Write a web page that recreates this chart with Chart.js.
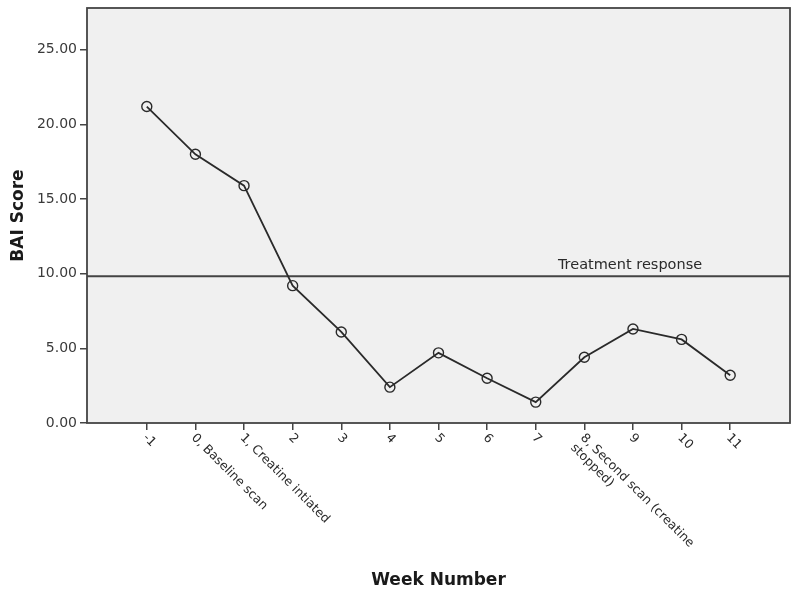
<!DOCTYPE html>
<html>
<head>
<meta charset="utf-8">
<script src="https://cdn.jsdelivr.net/npm/chart.js@4"></script>
<style>
  html, body { margin: 0; padding: 0; background: #fff; }
  #wrap { width: 800px; height: 595px; position: relative; }
</style>
</head>
<body>
<div id="wrap"><canvas id="grafica"></canvas></div>
<script>
// datos
const semanas = [-1, 0, 1, 2, 3, 4, 5, 6, 7, 8, 9, 10, 11];
const etiquetasSemana = [
    ['-1'],
    ['0, Baseline scan'],
    ['1, Creatine intiated'],
    ['2'], ['3'], ['4'], ['5'], ['6'], ['7'],
    ['8, Second scan (creatine', 'stopped)'],
    ['9'], ['10'], ['11']
];
const puntajeBAI = [21.2, 18.0, 15.9, 9.2, 6.1, 2.4, 4.7, 3.0, 1.4, 4.4, 6.3, 5.6, 3.2];
const umbralRespuesta = 9.83;
const textoUmbral = 'Treatment response';
const ticksY = [0, 5, 10, 15, 20, 25];

const FUENTE = '"DejaVu Sans", sans-serif';
const GRIS = '#2a2a2a';

// fondo, borde, línea de umbral y etiquetas inclinadas
const pluginSPSS = {
    id: 'spss',
    beforeDatasetsDraw(chart) {
        const { ctx, chartArea: a, scales } = chart;
        ctx.save();
        ctx.fillStyle = '#f0f0f0';
        ctx.fillRect(a.left, a.top, a.right - a.left, a.bottom - a.top);
        const yU = scales.y.getPixelForValue(umbralRespuesta);
        ctx.strokeStyle = '#444';
        ctx.lineWidth = 1.8;
        ctx.beginPath();
        ctx.moveTo(a.left, yU);
        ctx.lineTo(a.right, yU);
        ctx.stroke();
        ctx.fillStyle = GRIS;
        ctx.font = '14.5px ' + FUENTE;
        ctx.textAlign = 'center';
        ctx.textBaseline = 'bottom';
        ctx.fillText(textoUmbral, 630, yU - 4);
        ctx.restore();
    },
    afterDraw(chart) {
        const { ctx, chartArea: a, scales } = chart;
        ctx.save();
        ctx.strokeStyle = '#444';
        ctx.lineWidth = 1.8;
        ctx.strokeRect(a.left, a.top, a.right - a.left, a.bottom - a.top);

        ctx.fillStyle = GRIS;
        ctx.font = '12.5px ' + FUENTE;
        ctx.textAlign = 'left';
        ctx.textBaseline = 'middle';
        semanas.forEach((s, i) => {
            const x = scales.x.getPixelForValue(s);
            ctx.save();
            ctx.translate(x - 2, a.bottom + 13);
            ctx.rotate(Math.PI / 4);
            etiquetasSemana[i].forEach((linea, j) => {
                ctx.fillText(linea, 0, j * 14);
            });
            ctx.restore();
        });
        ctx.restore();
    }
};

const ctx = document.getElementById('grafica').getContext('2d');
new Chart(ctx, {
    type: 'line',
    data: {
        datasets: [{
            label: 'BAI Score',
            data: semanas.map((s, i) => ({ x: s, y: puntajeBAI[i] })),
            borderColor: GRIS,
            borderWidth: 1.8,
            pointRadius: 5,
            pointBorderWidth: 1.4,
            pointBackgroundColor: 'rgba(0,0,0,0)',
            pointBorderColor: GRIS,
            tension: 0
        }]
    },
    options: {
        responsive: true,
        maintainAspectRatio: false,
        animation: false,
        layout: { padding: { top: 8, right: 10, left: 4, bottom: 0 } },
        plugins: {
            legend: { display: false },
            tooltip: { enabled: false }
        },
        scales: {
            x: {
                type: 'linear',
                min: -2.23,
                max: 12.23,
                afterBuildTicks: s => { s.ticks = semanas.map(v => ({ value: v })); },
                afterFit: s => { s.height = 172; },
                grid: { drawOnChartArea: false, tickLength: 7, color: '#444', lineWidth: 1.5 },
                border: { display: false },
                ticks: { callback: () => '', maxRotation: 0 },
                title: {
                    display: true,
                    text: 'Week Number',
                    color: '#1a1a1a',
                    font: { family: FUENTE, size: 17, weight: 'bold' },
                    padding: { top: 118 }
                }
            },
            y: {
                min: 0,
                max: 27.8,
                afterBuildTicks: s => { s.ticks = ticksY.map(v => ({ value: v })); },
                afterFit: s => { s.width = 83; s.paddingTop = 0; s.paddingBottom = 0; },
                grid: { drawOnChartArea: false, tickLength: 7, color: '#444', lineWidth: 1.5 },
                border: { display: false },
                ticks: {
                    color: '#3a3a3a',
                    padding: 3,
                    font: { family: FUENTE, size: 14 },
                    callback: v => Number(v).toFixed(2)
                },
                title: {
                    display: true,
                    text: 'BAI Score',
                    color: '#1a1a1a',
                    font: { family: FUENTE, size: 17, weight: 'bold' },
                    padding: { bottom: 4 }
                }
            }
        }
    },
    plugins: [pluginSPSS]
});
</script>
</body>
</html>
